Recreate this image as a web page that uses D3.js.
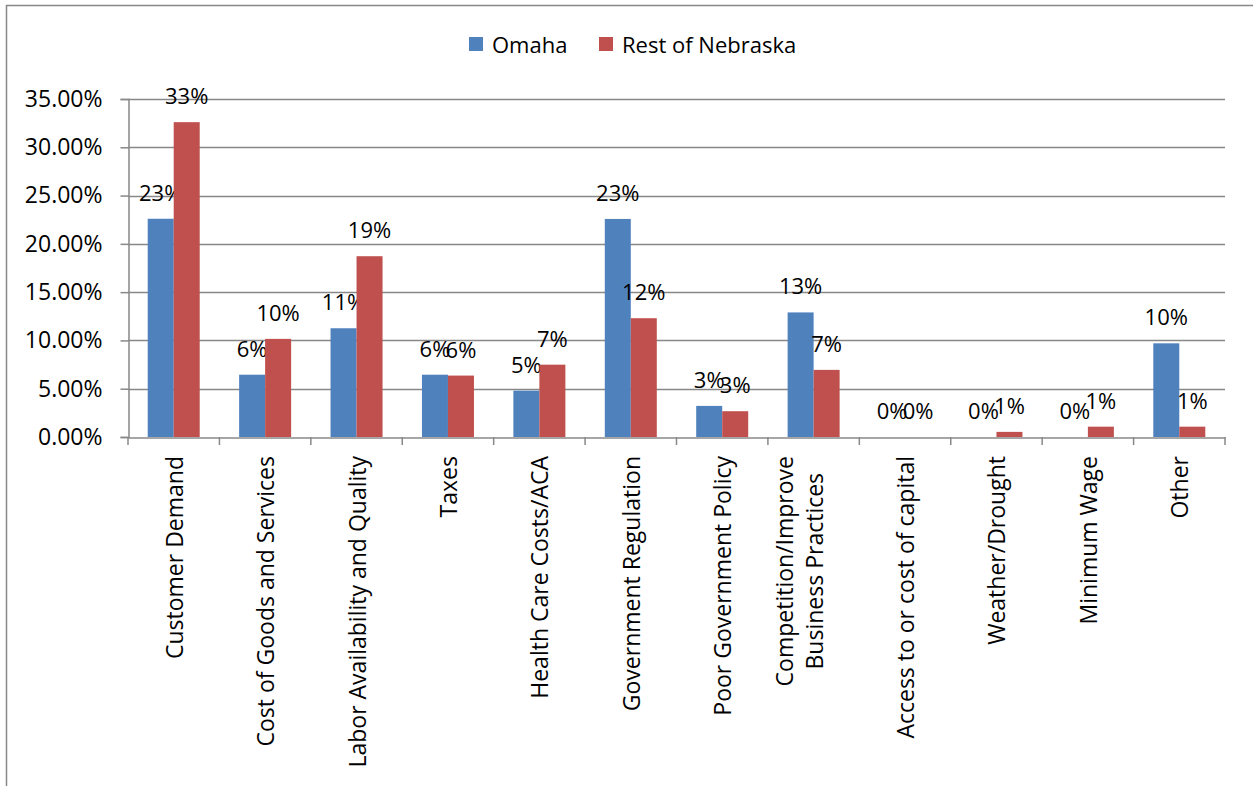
<!DOCTYPE html>
<html><head><meta charset="utf-8">
<script src="https://cdn.jsdelivr.net/npm/d3@7"></script>
<style>
html,body{margin:0;padding:0;background:#fff;}
text{font-family:"Open Sans",sans-serif;fill:#000;}
</style></head>
<body>
<svg id="chart" width="1253" height="786"></svg>
<script>
const categories = [
  ["Customer Demand"],
  ["Cost of Goods and Services"],
  ["Labor Availability and Quality"],
  ["Taxes"],
  ["Health Care Costs/ACA"],
  ["Government Regulation"],
  ["Poor Government Policy"],
  ["Competition/Improve","Business Practices"],
  ["Access to or cost of capital"],
  ["Weather/Drought"],
  ["Minimum Wage"],
  ["Other"]
];
const seriesNames = ["Omaha", "Rest of Nebraska"];
const omaha = [0.226, 0.0645, 0.1126, 0.0645, 0.048, 0.2258, 0.0322, 0.129, 0, 0, 0, 0.097];
const restOfNebraska = [0.326, 0.1016, 0.1872, 0.0636, 0.0749, 0.1230, 0.0267, 0.0695, 0, 0.0053, 0.0107, 0.0107];
const yTicks = [0, 0.05, 0.10, 0.15, 0.20, 0.25, 0.30, 0.35];
const colors = ["#4F81BD", "#C0504D"];

const svg = d3.select("#chart");
const pLeft = 128, pRight = 1225, pTop = 99, pBottom = 437;
const fs = 22, fsAxis = 23;

// frame
svg.append("line").attr("x1",6.5).attr("x2",6.5).attr("y1",5).attr("y2",786).attr("stroke","#888").attr("stroke-width",1.5);
svg.append("line").attr("x1",6).attr("x2",1253).attr("y1",5.5).attr("y2",5.5).attr("stroke","#888").attr("stroke-width",1.5);

const x0 = d3.scaleBand().domain(d3.range(categories.length)).range([pLeft, pRight]).paddingInner(0).paddingOuter(0);
const x1 = d3.scaleBand().domain([0,1]).range([x0.bandwidth()/2 - 26, x0.bandwidth()/2 + 26]);
const y = d3.scaleLinear().domain([0, 0.35]).range([pBottom, pTop]);

// gridlines
svg.append("g").selectAll("line").data(yTicks.filter(t=>t>0)).join("line")
  .attr("x1", pLeft).attr("x2", pRight)
  .attr("y1", d=>Math.round(y(d))+0.5).attr("y2", d=>Math.round(y(d))+0.5)
  .attr("stroke","#888").attr("stroke-width",1.5);

// y axis
const yAxis = d3.axisLeft(y).tickValues(yTicks).tickSize(8).tickPadding(18)
  .tickFormat(d => (d*100).toFixed(2) + "%");
const gy = svg.append("g").attr("transform", `translate(${pLeft+0.5},0)`).call(yAxis);
gy.select(".domain").attr("stroke","#888").attr("stroke-width",1.5);
gy.selectAll(".tick line").attr("stroke","#888").attr("stroke-width",1.5);
gy.selectAll(".tick text").attr("font-size", fsAxis).attr("font-family","Open Sans").attr("fill","#000");

// bars
const series = [omaha, restOfNebraska];
series.forEach((vals, si) => {
  const g = svg.append("g");
  g.selectAll("rect").data(vals).join("rect")
    .attr("x", (d,i)=> x0(i) + x1(si))
    .attr("width", x1.bandwidth())
    .attr("y", d => y(d))
    .attr("height", d => pBottom - y(d))
    .attr("fill", colors[si]);
  g.selectAll("text").data(vals).join("text")
    .attr("x", (d,i)=> x0(i) + x1(si) + x1.bandwidth()/2)
    .attr("y", d => y(d) - 27)
    .attr("text-anchor","middle")
    .attr("dominant-baseline","central")
    .attr("font-size", fs)
    .text(d => Math.round(d*100) + "%");
});

// x axis
const xAxis = d3.axisBottom(x0).tickValues([]).tickSizeOuter(0);
const gx = svg.append("g").attr("transform", `translate(0,${pBottom+0.5})`).call(xAxis);
gx.select(".domain").attr("stroke","#888").attr("stroke-width",1.5);
svg.append("g").selectAll("line").data(d3.range(categories.length+1)).join("line")
  .attr("x1", i => pLeft + i*x0.bandwidth()).attr("x2", i => pLeft + i*x0.bandwidth())
  .attr("y1", pBottom).attr("y2", pBottom+8).attr("stroke","#888").attr("stroke-width",1.5);

// category labels
categories.forEach((lines, i) => {
  const cx = x0(i) + x0.bandwidth()/2;
  const lh = 30;
  const t = svg.append("text")
    .attr("transform", `translate(${cx},456) rotate(-90)`)
    .attr("font-size", fsAxis);
  if (lines.length === 1) {
    t.attr("text-anchor","end").attr("dominant-baseline","central").text(lines[0]);
  } else {
    const tmp = svg.append("text").attr("font-size", fsAxis);
    const widths = lines.map(l => { tmp.text(l); return tmp.node().getComputedTextLength(); });
    tmp.remove();
    const maxW = Math.max(...widths);
    lines.forEach((l, k) => {
      t.append("tspan")
        .attr("x", -maxW/2)
        .attr("y", (k - (lines.length-1)) * lh)
        .attr("text-anchor","middle")
        .attr("dominant-baseline","central")
        .text(l);
    });
  }
});

// legend
const legend = svg.append("g");
const legendItems = [{x:469, tx:492}, {x:599, tx:622}];
seriesNames.forEach((n, i) => {
  legend.append("rect").attr("x", legendItems[i].x).attr("y", 37).attr("width", 14).attr("height", 14).attr("fill", colors[i]);
  legend.append("text").attr("x", legendItems[i].tx).attr("y", 44).attr("dominant-baseline","central")
    .attr("font-size", fs).text(n);
});
</script>
</body></html>
